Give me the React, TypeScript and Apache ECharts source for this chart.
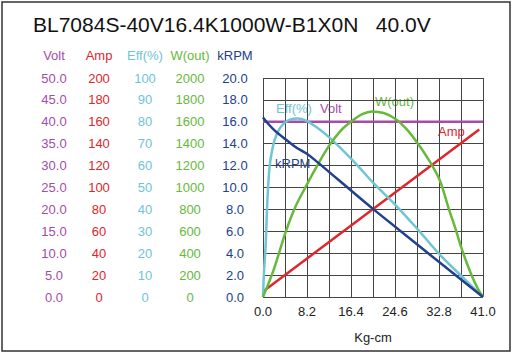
import React, { useEffect, useRef } from "react";
import * as echarts from "echarts";

const titleText = "BL7084S-40V16.4K1000W-B1X0N   40.0V";
// order: kRPM, W(out), Eff(%), Amp, Volt
const axisNames = ["kRPM", "W(out)", "Eff(%)", "Amp", "Volt"];
const axisMax = [20, 2000, 100, 200, 50];
const axisStep = [2, 200, 10, 20, 5];
const axisDecimals = [1, 0, 0, 0, 1];
const colors = ["#22408c", "#66b93a", "#6fc4d6", "#e0262c", "#a64ca8"];

const voltData = [[0, 40], [41, 40]];
const ampData = [[0, 5], [40.3, 153]];
const effData = [
  [0, 0], [0.2, 12], [0.5, 24], [0.75, 40], [0.95, 50], [1.25, 60], [1.7, 67], [2.2, 72],
  [3, 76.5], [4, 79.5], [5, 81], [6.5, 81.5], [8, 80.5], [10, 77.5], [12.3, 73],
  [16.5, 63], [20.6, 52], [24.7, 42], [28.8, 31], [32.9, 19.5], [37, 9.5], [41, 0],
];
const wData = [
  [0, 0], [2, 250], [4.2, 590], [6, 820], [8, 1010], [10, 1190], [12.3, 1380],
  [14.5, 1520], [16.5, 1605], [18.5, 1670], [20.3, 1695], [22.5, 1680], [24.7, 1625],
  [26.8, 1530], [28.8, 1405], [30.8, 1260], [32.9, 1070], [34.6, 810], [35.9, 620],
  [37.1, 430], [38.7, 220], [40, 80], [41, 0],
];
const rpmData = [
  [0, 16.4], [1, 15.8], [2.2, 15.2], [4.2, 14.4], [5.9, 13.75], [8.1, 13.1],
  [9.7, 12.5], [20.6, 8.0], [41, 0],
];
const xTicks = { min: 0, max: 41, step: 4.1 };

const columnCenters = [235, 190, 145, 99, 54];

export default function App() {
  const ref = useRef<HTMLDivElement>(null);
  useEffect(() => {
    if (!ref.current) return;
    const chart = echarts.init(ref.current, null, { renderer: "svg" });
    const font = "Liberation Sans, Arial, sans-serif";
    const gridLeft = 263;
    const gridTop = 78;
    const yAxes = axisNames.map((name, i) => ({
      type: "value",
      position: "left",
      offset: gridLeft - columnCenters[i],
      min: 0,
      max: axisMax[i],
      interval: axisStep[i],
      name: "",
      axisLine: { show: false },
      axisTick: { show: false },
      axisLabel: {
        color: colors[i],
        fontSize: 13,
        fontFamily: font,
        align: "center",
        margin: 0,
        hideOverlap: false,
        formatter: (v: number) => v.toFixed(axisDecimals[i]),
      },
      splitLine: i === 0 ? { show: true, lineStyle: { color: "#444", width: 1 } } : { show: false },
    }));
    const nameTexts = axisNames.map((name, i) => ({
      type: "text",
      x: columnCenters[i],
      y: gridTop - 23,
      style: {
        text: name,
        fontSize: 13,
        fontFamily: font,
        fill: colors[i],
        align: "center",
        verticalAlign: "middle",
      },
    }));
    const mk = (name: string, data: number[][], idx: number, smooth: number | boolean) => ({
      name,
      type: "line",
      yAxisIndex: idx,
      data,
      showSymbol: false,
      smooth,
      lineStyle: { color: colors[idx], width: 2.5 },
      itemStyle: { color: colors[idx] },
    });
    chart.setOption({
      animation: false,
      grid: { left: gridLeft, right: 33, top: gridTop, bottom: 58, containLabel: false, outerBoundsMode: "none" },
      xAxis: {
        type: "value",
        min: xTicks.min,
        max: xTicks.max,
        interval: xTicks.step,
        name: "Kg-cm",
        nameLocation: "middle",
        nameGap: 34,
        nameTextStyle: { color: "#222", fontSize: 13, fontFamily: font },
        axisLine: { show: false },
        axisTick: { show: false },
        axisLabel: {
          color: "#222",
          fontSize: 13,
          fontFamily: font,
          margin: 8,
          showMaxLabel: true,
          formatter: (v: number, idx: number) => (idx % 2 === 0 ? v.toFixed(1) : ""),
        },
        splitLine: { show: true, lineStyle: { color: "#444", width: 1 } },
      },
      yAxis: yAxes,
      series: [
        mk("Volt", voltData, 4, false),
        mk("Amp", ampData, 3, false),
        mk("Eff(%)", effData, 2, 0.35),
        mk("W(out)", wData, 1, 0.35),
        mk("kRPM", rpmData, 0, 0.25),
      ],
      graphic: [
        {
          type: "rect",
          shape: { x: 2, y: 2, width: 508, height: 349 },
          style: { fill: "none", stroke: "#333", lineWidth: 1.5 },
        },
        {
          type: "text",
          left: 33,
          top: 14,
          style: { text: titleText, fontSize: 21, fontFamily: font, fill: "#111" },
        },
        ...nameTexts,
        { type: "text", left: 276, top: 102, style: { text: "Eff(%)", fontSize: 13, fontFamily: font, fill: colors[2] } },
        { type: "text", left: 320, top: 102, style: { text: "Volt", fontSize: 13, fontFamily: font, fill: colors[4] } },
        { type: "text", left: 375, top: 95, style: { text: "W(out)", fontSize: 13, fontFamily: font, fill: colors[1] } },
        { type: "text", left: 438, top: 125, style: { text: "Amp", fontSize: 13, fontFamily: font, fill: colors[3] } },
        { type: "text", left: 275, top: 157, style: { text: "kRPM", fontSize: 13, fontFamily: font, fill: colors[0] } },
      ],
    });
    return () => chart.dispose();
  }, []);
  return (
    <div
      ref={ref}
      style={{ position: "fixed", left: 0, top: 0, width: 516, height: 355, background: "#fff" }}
    />
  );
}
